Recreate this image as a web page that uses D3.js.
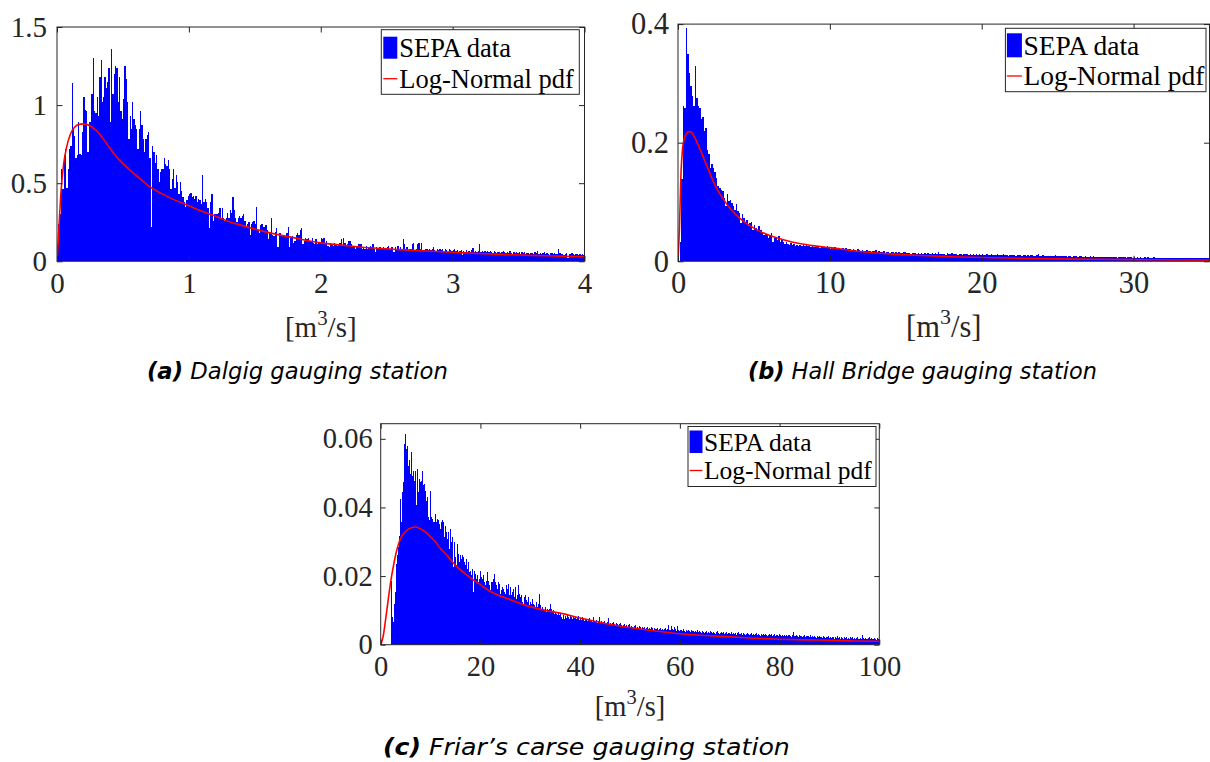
<!DOCTYPE html>
<html>
<head>
<meta charset="utf-8">
<script src="https://cdnjs.cloudflare.com/ajax/libs/d3/7.8.5/d3.min.js"></script>
<style>
  html, body { margin: 0; padding: 0; background: #ffffff; }
  svg { display: block; }
</style>
</head>
<body>
<svg id="fig" width="1210" height="762"></svg>
<script>
// ---------------------------------------------------------------------------
// Flow histograms (pdf-normalised) and fitted Log-Normal densities
// ---------------------------------------------------------------------------

// (a) Dalgig: bins of 0.01 m3/s starting at 0
const dalgigBinWidth = 0.01;
const dalgigDensity = [
  0.08,0.24,0.30,0.59,0.46,0.68,0.72,0.47,0.59,0.72,
  0.74,1.14,0.85,0.80,0.66,0.68,0.89,0.69,0.68,0.83,
  1.05,0.97,0.96,0.70,0.89,0.89,1.07,1.30,0.96,0.95,
  1.05,0.93,1.18,1.29,1.02,1.05,1.18,1.11,1.15,1.24,
  0.89,1.36,1.07,1.20,1.25,1.24,1.02,1.18,0.96,0.91,
  1.04,1.25,1.17,1.02,0.78,0.93,0.85,1.02,0.91,0.87,
  0.85,0.72,0.85,0.96,0.87,0.78,0.70,0.78,0.81,0.83,
  0.66,0.22,0.74,0.70,0.63,0.68,0.59,0.51,0.57,0.59,
  0.59,0.66,0.62,0.61,0.65,0.59,0.46,0.53,0.59,0.47,
  0.55,0.51,0.43,0.51,0.45,0.41,0.38,0.35,0.39,0.42,
  0.43,0.44,0.41,0.42,0.40,0.42,0.38,0.40,0.39,0.37,
  0.55,0.38,0.40,0.38,0.34,0.21,0.38,0.43,0.26,0.30,
  0.30,0.30,0.31,0.34,0.28,0.34,0.28,0.26,0.28,0.31,
  0.28,0.33,0.31,0.41,0.33,0.28,0.25,0.28,0.29,0.28,
  0.29,0.30,0.26,0.22,0.24,0.25,0.17,0.24,0.25,0.26,
  0.24,0.35,0.20,0.18,0.23,0.24,0.22,0.22,0.23,0.20,
  0.14,0.19,0.28,0.17,0.16,0.19,0.21,0.09,0.18,0.18,
  0.16,0.17,0.17,0.16,0.18,0.22,0.09,0.15,0.16,0.12,
  0.13,0.17,0.18,0.17,0.20,0.21,0.11,0.13,0.15,0.14,
  0.15,0.13,0.13,0.15,0.12,0.11,0.14,0.11,0.12,0.12,
  0.15,0.14,0.15,0.12,0.13,0.10,0.09,0.12,0.11,0.10,
  0.12,0.11,0.10,0.11,0.12,0.14,0.10,0.15,0.12,0.10,
  0.11,0.13,0.13,0.11,0.09,0.10,0.08,0.09,0.11,0.11,
  0.11,0.08,0.09,0.08,0.10,0.08,0.09,0.10,0.09,0.11,
  0.08,0.06,0.09,0.08,0.09,0.09,0.08,0.09,0.08,0.08,
  0.09,0.10,0.08,0.09,0.09,0.06,0.09,0.08,0.10,0.08,
  0.09,0.08,0.14,0.11,0.08,0.09,0.07,0.08,0.08,0.11,
  0.12,0.07,0.08,0.11,0.12,0.08,0.12,0.07,0.07,0.08,
  0.08,0.07,0.08,0.07,0.08,0.09,0.07,0.06,0.08,0.07,
  0.08,0.07,0.08,0.06,0.08,0.07,0.06,0.08,0.072,0.063,
  0.070,0.078,0.066,0.071,0.060,0.068,0.073,0.042,0.069,0.058,
  0.071,0.062,0.067,0.059,0.070,0.088,0.057,0.066,0.061,0.069,
  0.108,0.058,0.066,0.060,0.063,0.057,0.068,0.059,0.066,0.058,
  0.055,0.067,0.060,0.051,0.062,0.057,0.050,0.061,0.066,0.058,
  0.052,0.060,0.056,0.068,0.055,0.049,0.058,0.053,0.059,0.050,
  0.057,0.048,0.060,0.052,0.058,0.047,0.053,0.056,0.049,0.054,
  0.051,0.046,0.057,0.050,0.066,0.048,0.053,0.047,0.052,0.058,
  0.046,0.051,0.049,0.042,0.050,0.055,0.047,0.051,0.048,0.046,
  0.078,0.050,0.045,0.049,0.041,0.047,0.051,0.022,0.048,0.044,
  0.050,0.046,0.041,0.049,0.045,0.040,0.047,0.043,0.046,0.041
];
const dalgigFitX = [0,0.01,0.02,0.03,0.05,0.07,0.10,0.13,0.16,0.20,0.25,0.30,0.35,0.40,0.45,0.50,
  0.60,0.70,0.80,0.90,1.00,1.10,1.20,1.30,1.40,1.60,1.80,2.00,2.20,2.40,2.60,2.80,3.00,3.20,3.40,3.60,3.80,4.00];
const dalgigFitY = [0,0.14,0.30,0.44,0.62,0.72,0.81,0.855,0.875,0.88,0.868,0.835,0.785,0.725,0.67,0.625,
  0.55,0.48,0.43,0.39,0.355,0.32,0.29,0.255,0.23,0.185,0.15,0.118,0.10,0.085,0.075,0.066,0.058,0.050,0.044,0.038,0.033,0.029];
const dalgigXTicks = [0, 1, 2, 3, 4];
const dalgigXTickLabels = ["0", "1", "2", "3", "4"];
const dalgigYTicks = [0, 0.5, 1, 1.5];
const dalgigYTickLabels = ["0", "0.5", "1", "1.5"];

// (b) Hall Bridge: bins of 0.1 m3/s starting at 0
const hallBinWidth = 0.1;
const hallDensity = [
  0,0.033,0.138,0.262,0.258,0.393,0.350,0.318,0.295,0.278,
  0.262,0.330,0.276,0.262,0.258,0.240,0.244,0.220,0.224,0.187,
  0.181,0.158,0.164,0.158,0.150,0.141,0.127,0.124,0.121,0.118,
  0.107,0.093,0.113,0.101,0.104,0.099,0.093,0.087,0.096,0.084,
  0.081,0.064,0.079,0.073,0.067,0.070,0.059,0.064,0.067,0.053,
  0.062,0.056,0.051,0.059,0.053,0.050,0.044,0.047,0.044,0.040,
  0.042,0.047,0.033,0.040,0.039,0.036,0.042,0.033,0.036,0.033,
  0.030,0.033,0.030,0.028,0.031,0.027,0.029,0.026,0.028,0.025,
  0.027,0.026,0.0285,0.0262,0.0297,0.0255,0.0271,0.0243,0.0268,0.0249,
  0.0236,0.0262,0.0247,0.0228,0.0255,0.0239,0.0244,0.0219,0.0251,0.0233,
  0.0215,0.0238,0.0226,0.0241,0.0209,0.0222,0.0231,0.0204,0.0217,0.0196,
  0.0223,0.0208,0.0199,0.0214,0.0187,0.0205,0.0193,0.0182,0.0201,0.0189,
  0.0176,0.0194,0.0181,0.0169,0.0188,0.0172,0.0179,0.0161,0.0175,0.0166,
  0.0183,0.0158,0.0171,0.0162,0.0153,0.0169,0.0148,0.0163,0.0155,0.0142,
  0.0159,0.0151,0.0146,0.0157,0.0138,0.0152,0.0144,0.0135,0.0149,0.0156,
  0.0133,0.0145,0.0139,0.0128,0.0147,0.0136,0.0142,0.0125,0.0138,0.0131,
  0.0144,0.0127,0.0135,0.0122,0.0139,0.0129,0.0118,0.0133,0.0126,0.0137,
  0.0121,0.0152,0.0128,0.0117,0.0131,0.0124,0.0113,0.0146,0.0127,0.0119,
  0.0132,0.0115,0.0126,0.0118,0.0109,0.0129,0.0121,0.0112,0.0125,0.0116,
  0.0131,0.0108,0.0122,0.0114,0.0119,0.0105,0.0124,0.0111,0.0117,0.0103,
  0.0121,0.0113,0.0107,0.0118,0.0110,0.0101,0.0115,0.0108,0.0112,0.0099,
  0.0116,0.0105,0.0110,0.0102,0.0129,0.0113,0.0104,0.0097,0.0111,0.0106,
  0.0100,0.0108,0.0095,0.0104,0.0109,0.0098,0.0092,0.0106,0.0101,0.0094,
  0.0103,0.0090,0.0099,0.0105,0.0093,0.0088,0.0101,0.0118,0.0094,0.0089,
  0.0098,0.0091,0.0085,0.0097,0.0092,0.0086,0.0095,0.0089,0.0112,0.0090,
  0.0083,0.0094,0.0088,0.0081,0.0092,0.0085,0.0079,0.0090,0.0084,0.0077,
  0.0089,0.0082,0.0087,0.0076,0.0083,0.0088,0.0078,0.0074,0.0085,0.0080,
  0.0072,0.0083,0.0077,0.0081,0.0071,0.0079,0.0074,0.0068,0.0080,0.0073,
  0.0077,0.0069,0.0075,0.0070,0.0066,0.0078,0.0071,0.0067,0.0074,0.0063,
  0.0072,0.0068,0.0065,0.0073,0.0069,0.0062,0.0070,0.0066,0.0071,0.0061,
  0.0067,0.0064,0.0069,0.0060,0.0066,0.0063,0.0058,0.0068,0.0062,0.0065,
  0.0057,0.0063,0.0060,0.0066,0.0056,0.0062,0.0059,0.0054,0.0064,0.0058,
  0.0061,0.0053,0.0060,0.0057,0.0063,0.0055,0.0052,0.0059,0.0056,0.0061,
  0.0051,0.0058,0.0055,0.0050,0.0059,0.0054,0.0057,0.0049,0.0056,0.0052,
  0.0058,0.0050,0.0054,0.0051,0.0048,0.0056,0.0052,0.0049,0.0055,0.0050
];
const hallFitX = [0,0.1,0.2,0.3,0.4,0.5,0.6,0.75,0.9,1.1,1.3,1.5,1.8,2.0,2.25,2.5,2.75,3.0,3.5,4.0,4.5,
  5.0,5.5,6.0,7.0,8.0,9.0,10,12,14,16,18,20,22.5,25,27.5,30,32.5,35];
const hallFitY = [0,0.06,0.15,0.19,0.205,0.213,0.217,0.219,0.217,0.209,0.198,0.186,0.167,0.155,0.139,0.125,
  0.114,0.104,0.087,0.074,0.064,0.056,0.049,0.044,0.036,0.030,0.026,0.023,0.0165,0.0125,0.0097,0.0078,
  0.0063,0.0050,0.0041,0.0034,0.0028,0.0023,0.0019];
const hallXTicks = [0, 10, 20, 30];
const hallXTickLabels = ["0", "10", "20", "30"];
const hallYTicks = [0, 0.2, 0.4];
const hallYTickLabels = ["0", "0.2", "0.4"];

// (c) Friar's carse: bins of 0.2 m3/s starting at 0
const friarsBinWidth = 0.2;
const friarsDensity = [
  0,0,0,0,0,0,0,0,0,0,
  0.0185,0.0081,0.0065,0.0120,0.0155,0.0236,0.0260,0.0284,0.0318,0.0425,
  0.0357,0.0444,0.0474,0.0585,0.0613,0.0571,0.0580,0.0522,0.0537,0.0498,
  0.0561,0.0493,0.0507,0.0478,0.0507,0.0406,0.0512,0.0444,0.0483,0.0474,
  0.0478,0.0507,0.0464,0.0468,0.0449,0.0420,0.0430,0.0372,0.0362,0.0449,
  0.0372,0.0367,0.0357,0.0357,0.0381,0.0357,0.0367,0.0362,0.0352,0.0338,
  0.0357,0.0362,0.0357,0.0313,0.0347,0.0328,0.0309,0.0328,0.0280,0.0338,
  0.0299,0.0313,0.0280,0.0226,0.0299,0.0255,0.0231,0.0294,0.0265,0.0241,
  0.0260,0.0250,0.0260,0.0255,0.0241,0.0231,0.0250,0.0221,0.0241,0.0212,
  0.0216,0.0202,0.0221,0.0153,0.0216,0.0207,0.0192,0.0202,0.0183,0.0192,
  0.0216,0.0197,0.0192,0.0202,0.0183,0.0173,0.0187,0.0212,0.0185,0.0173,
  0.0158,0.0183,0.0183,0.0192,0.0207,0.0183,0.0173,0.0163,0.0183,0.0178,
  0.0149,0.0158,0.0168,0.0163,0.0153,0.0149,0.0173,0.0163,0.0178,0.0144,
  0.0168,0.0144,0.0153,0.0163,0.0139,0.0168,0.0134,0.0144,0.0173,0.0149,
  0.0139,0.0144,0.0124,0.0120,0.0139,0.0144,0.0129,0.0124,0.0139,0.0115,
  0.0124,0.0120,0.0134,0.0120,0.0115,0.0110,0.0124,0.0110,0.0120,0.0149,
  0.0115,0.0105,0.0110,0.0105,0.0100,0.0110,0.0095,0.0105,0.0100,0.0105,
  0.0120,0.0105,0.0095,0.0100,0.0090,0.0095,0.0090,0.0088,0.0095,0.0086,
  0.0090,0.0081,0.0076,0.0086,0.0076,0.0084,0.0079,0.0088,0.0081,0.0076,
  0.0085,0.0080,0.0074,0.0083,0.0078,0.0081,0.0075,0.0079,0.0084,0.0073,
  0.0077,0.0072,0.0080,0.0074,0.0070,0.0076,0.0071,0.0068,0.0074,0.0079,
  0.0069,0.0073,0.0066,0.0082,0.0070,0.0067,0.0071,0.0064,0.0069,0.0080,
  0.0065,0.0068,0.0062,0.0066,0.0070,0.0063,0.0060,0.0067,0.0078,0.0061,
  0.0064,0.0058,0.0062,0.0066,0.0059,0.0057,0.0063,0.0060,0.0055,0.0059,
  0.0062,0.0056,0.0053,0.0058,0.0061,0.0054,0.0057,0.0052,0.0056,0.0059,
  0.0051,0.0055,0.0053,0.0049,0.0054,0.0057,0.0050,0.0052,0.0048,0.0055,
  0.0051,0.0047,0.0053,0.0049,0.0052,0.0046,0.0050,0.0053,0.0047,0.0049,
  0.0045,0.0051,0.0048,0.0044,0.0050,0.0047,0.0045,0.0049,0.0043,0.0046,
  0.0048,0.0044,0.0047,0.0042,0.0046,0.0049,0.0043,0.0045,0.0058,0.0044,
  0.0042,0.0055,0.0046,0.0043,0.0052,0.0045,0.0041,0.0054,0.0043,0.0040,
  0.0044,0.0042,0.0039,0.0045,0.0041,0.0038,0.0043,0.0040,0.0044,0.0039,
  0.0037,0.0042,0.0039,0.0041,0.0036,0.0040,0.0038,0.0042,0.0036,0.0039,
  0.0037,0.0035,0.0040,0.0037,0.0034,0.0038,0.0041,0.0035,0.0037,0.0033,
  0.0039,0.0036,0.0034,0.0038,0.0035,0.0032,0.0036,0.0039,0.0034,0.0031,
  0.0035,0.0037,0.0033,0.0036,0.0032,0.0034,0.0037,0.0031,0.0035,0.0033,
  0.0030,0.0036,0.0032,0.0034,0.0031,0.0035,0.0029,0.0033,0.0036,0.0030,
  0.0032,0.0034,0.0029,0.0033,0.0031,0.0028,0.0032,0.0035,0.0030,0.0027,
  0.0031,0.0033,0.0029,0.0032,0.0028,0.0030,0.0033,0.0027,0.0031,0.0029,
  0.0026,0.0032,0.0028,0.0030,0.0027,0.0031,0.0028,0.0025,0.0029,0.0032,
  0.0027,0.0030,0.0026,0.0028,0.0031,0.0026,0.0029,0.0027,0.0025,0.0030,
  0.0027,0.0024,0.0028,0.0026,0.0029,0.0025,0.0028,0.0024,0.0027,0.0029,
  0.0025,0.0023,0.0027,0.0038,0.0026,0.0024,0.0028,0.0025,0.0023,0.0027,
  0.0024,0.0026,0.0022,0.0025,0.0028,0.0023,0.0026,0.0024,0.0021,0.0025,
  0.0023,0.0027,0.0022,0.0024,0.0021,0.0025,0.0023,0.0020,0.0024,0.0022,
  0.0026,0.0021,0.0023,0.0020,0.0024,0.0022,0.0019,0.0023,0.0021,0.0025,
  0.0020,0.0022,0.0019,0.0023,0.0021,0.0018,0.0022,0.0020,0.0024,0.0019,
  0.0021,0.0018,0.0022,0.0020,0.0017,0.0021,0.0019,0.0023,0.0018,0.0020,
  0.0017,0.0021,0.0019,0.0022,0.0018,0.0020,0.0017,0.0019,0.0021,0.0018,
  0.0016,0.0020,0.0018,0.0027,0.0019,0.0017,0.0020,0.0018,0.0016,0.0019,
  0.0021,0.0017,0.0019,0.0016,0.0018,0.0020,0.0017,0.0015,0.0019,0.0017
];
const friarsFitX = [0,0.5,1,1.5,2,2.5,3,3.5,4,5,6,7,8,9,10,11,12,13,14,15,16,18,20,22,24,26,28,30,33,36,
  40,45,50,55,60,65,70,75,80,85,90,95,100];
const friarsFitY = [0,0.0025,0.0075,0.0130,0.0183,0.0225,0.0262,0.0290,0.0310,0.0330,0.0340,0.0343,0.0338,
  0.0328,0.0314,0.0299,0.0280,0.0265,0.0248,0.0231,0.0218,0.0195,0.0175,0.0155,0.0142,0.0131,0.0120,0.0111,
  0.0100,0.0092,0.0078,0.0062,0.0050,0.0040,0.0032,0.0027,0.0023,0.0019,0.0016,0.0014,0.0013,0.0011,0.0010];
const friarsXTicks = [0, 20, 40, 60, 80, 100];
const friarsXTickLabels = ["0", "20", "40", "60", "80", "100"];
const friarsYTicks = [0, 0.02, 0.04, 0.06];
const friarsYTickLabels = ["0", "0.02", "0.04", "0.06"];

const legendLabels = ["SEPA data", "Log-Normal pdf"];
const unitLabel = { base: "[m", sup: "3", tail: "/s]" };
const captions = [
  { tag: "(a)", text: " Dalgig gauging station" },
  { tag: "(b)", text: " Hall Bridge gauging station" },
  { tag: "(c)", text: " Friar\u2019s carse gauging station" }
];

// ---------------------------------------------------------------------------
// Layout and styling
// ---------------------------------------------------------------------------
const SERIF = "'Liberation Serif','Times New Roman',Times,serif";
const SANS = "'DejaVu Sans',Arial,sans-serif";
const AXIS_COLOR = "#262626";
const BAR_COLOR = "#0000ff";
const FIT_COLOR = "#ff0000";

const panels = [
  {
    density: dalgigDensity, binWidth: dalgigBinWidth, fitX: dalgigFitX, fitY: dalgigFitY,
    xDomain: [0, 4], yDomain: [0, 1.5],
    xTicks: dalgigXTicks, xTickLabels: dalgigXTickLabels, yTicks: dalgigYTicks, yTickLabels: dalgigYTickLabels,
    caption: captions[0],
    frame: { left: 57, right: 584.5, top: 27, bottom: 261.3 },
    tickFont: 29, tickLen: 5.5, xTickBaseline: 293, yLabelGap: 10,
    xlabelBaseline: 337,
    captionCx: 297.5, captionBaseline: 379, captionWidth: 301,
    legend: { x: 381.3, y: 29.7, w: 198, h: 64.6, font: 26.5,
              patchX: 2, patchW: 14, patchY: 7, patchH: 22, lineY: 49, textX: 18, base1: 27, base2: 58.5 }
  },
  {
    density: hallDensity, binWidth: hallBinWidth, fitX: hallFitX, fitY: hallFitY,
    xDomain: [0, 35], yDomain: [0, 0.4],
    xTicks: hallXTicks, xTickLabels: hallXTickLabels, yTicks: hallYTicks, yTickLabels: hallYTickLabels,
    caption: captions[1],
    frame: { left: 678, right: 1209.5, top: 24.1, bottom: 261.3 },
    tickFont: 30.5, tickLen: 5.5, xTickBaseline: 293.5, yLabelGap: 9,
    xlabelBaseline: 337,
    captionCx: 922.5, captionBaseline: 379, captionWidth: 349,
    legend: { x: 1005.4, y: 28.3, w: 200.6, h: 63.4, font: 27.5,
              patchX: 1.5, patchW: 15, patchY: 5, patchH: 24, lineY: 47.7, textX: 18, base1: 26.5, base2: 57 }
  },
  {
    density: friarsDensity, binWidth: friarsBinWidth, fitX: friarsFitX, fitY: friarsFitY,
    xDomain: [0, 100], yDomain: [0, 0.0644],
    xTicks: friarsXTicks, xTickLabels: friarsXTickLabels, yTicks: friarsYTicks, yTickLabels: friarsYTickLabels,
    caption: captions[2],
    frame: { left: 380.7, right: 879.3, top: 423.7, bottom: 644.7 },
    tickFont: 28.5, tickLen: 5, xTickBaseline: 676.5, yLabelGap: 8,
    xlabelBaseline: 716,
    captionCx: 586.5, captionBaseline: 755, captionWidth: 407,
    legend: { x: 688, y: 426.5, w: 188, h: 60, font: 25.5,
              patchX: 1.5, patchW: 13, patchY: 4, patchH: 22.5, lineY: 44, textX: 16, base1: 24, base2: 52 }
  }
];

const svg = d3.select("#fig");
svg.append("rect").attr("width", 1210).attr("height", 762).attr("fill", "#ffffff");

panels.forEach((p, idx) => drawPanel(p, idx));

function drawPanel(p, idx) {
  const f = p.frame;
  const x = d3.scaleLinear().domain(p.xDomain).range([f.left, f.right]);
  const y = d3.scaleLinear().domain(p.yDomain).range([f.bottom, f.top]);
  const g = svg.append("g").attr("class", "panel-" + idx);

  const clipId = "plot-clip-" + idx;
  g.append("clipPath").attr("id", clipId)
    .append("rect")
    .attr("x", f.left).attr("y", f.top)
    .attr("width", f.right - f.left).attr("height", f.bottom - f.top);

  const plot = g.append("g").attr("clip-path", "url(#" + clipId + ")");

  // histogram bars, bin edges snapped to whole pixels so neighbours meet without seams
  const bins = p.density
    .map((v, i) => ({ x0: i * p.binWidth, x1: (i + 1) * p.binWidth, v }))
    .filter(d => d.v > 0);
  const px = v => Math.round(x(v));
  plot.append("g")
    .attr("shape-rendering", "crispEdges")
    .selectAll("rect")
    .data(bins)
    .join("rect")
    .attr("x", d => px(d.x0))
    .attr("width", d => Math.max(1, px(d.x1) - px(d.x0)))
    .attr("y", d => y(d.v))
    .attr("height", d => y(0) - y(d.v))
    .attr("fill", BAR_COLOR);

  // fitted density
  const fit = d3.zip(p.fitX, p.fitY);
  const line = d3.line()
    .x(d => x(d[0]))
    .y(d => y(d[1]))
    .curve(d3.curveMonotoneX);
  plot.append("path")
    .datum(fit)
    .attr("d", line)
    .attr("fill", "none")
    .attr("stroke", FIT_COLOR)
    .attr("stroke-width", 1.6)
    .attr("stroke-linejoin", "round");

  // axes with inward ticks on all four sides
  const styleAxis = sel => {
    sel.select(".domain").remove();
    sel.selectAll(".tick line").attr("stroke", AXIS_COLOR).attr("stroke-width", 1);
    sel.selectAll(".tick text")
      .attr("fill", AXIS_COLOR)
      .attr("font-family", SERIF)
      .attr("font-size", p.tickFont);
    sel.attr("font-family", null).attr("font-size", null);
  };

  const bottomPad = p.xTickBaseline - f.bottom - 0.71 * p.tickFont;
  g.append("g")
    .attr("transform", `translate(0,${f.bottom})`)
    .call(d3.axisBottom(x).tickValues(p.xTicks).tickSize(-p.tickLen).tickPadding(bottomPad)
      .tickFormat((d, i) => p.xTickLabels[i]))
    .call(styleAxis);

  g.append("g")
    .attr("transform", `translate(0,${f.top})`)
    .call(d3.axisTop(x).tickValues(p.xTicks).tickSize(-p.tickLen).tickFormat(""))
    .call(styleAxis);

  g.append("g")
    .attr("transform", `translate(${f.left},0)`)
    .call(d3.axisLeft(y).tickValues(p.yTicks).tickSize(-p.tickLen).tickPadding(p.yLabelGap)
      .tickFormat((d, i) => p.yTickLabels[i]))
    .call(styleAxis);

  g.append("g")
    .attr("transform", `translate(${f.right},0)`)
    .call(d3.axisRight(y).tickValues(p.yTicks).tickSize(-p.tickLen).tickFormat(""))
    .call(styleAxis);

  g.append("rect")
    .attr("x", f.left).attr("y", f.top)
    .attr("width", f.right - f.left).attr("height", f.bottom - f.top)
    .attr("fill", "none")
    .attr("stroke", AXIS_COLOR)
    .attr("stroke-width", 1);

  // legend
  const L = p.legend;
  const lg = g.append("g").attr("transform", `translate(${L.x},${L.y})`);
  lg.append("rect")
    .attr("width", L.w).attr("height", L.h)
    .attr("fill", "#ffffff")
    .attr("stroke", AXIS_COLOR)
    .attr("stroke-width", 1);
  lg.append("rect")
    .attr("x", L.patchX).attr("y", L.patchY)
    .attr("width", L.patchW).attr("height", L.patchH)
    .attr("fill", BAR_COLOR);
  lg.append("line")
    .attr("x1", L.patchX).attr("x2", L.patchX + L.patchW)
    .attr("y1", L.lineY).attr("y2", L.lineY)
    .attr("stroke", FIT_COLOR).attr("stroke-width", 1.3);
  lg.selectAll("text.entry")
    .data(legendLabels)
    .join("text")
    .attr("class", "entry")
    .attr("x", L.textX)
    .attr("y", (d, i) => i === 0 ? L.base1 : L.base2)
    .attr("font-family", SERIF)
    .attr("font-size", L.font)
    .attr("fill", "#000000")
    .text(d => d);

  // x-axis unit label
  const xl = g.append("text")
    .attr("x", (f.left + f.right) / 2)
    .attr("y", p.xlabelBaseline)
    .attr("text-anchor", "middle")
    .attr("font-family", SERIF)
    .attr("font-size", p.tickFont)
    .attr("fill", AXIS_COLOR);
  const supShift = Math.round(p.tickFont * 0.42);
  xl.append("tspan").text(unitLabel.base);
  xl.append("tspan").attr("dy", -supShift).attr("font-size", p.tickFont * 0.72).text(unitLabel.sup);
  xl.append("tspan").attr("dy", supShift).text(unitLabel.tail);

  // sub-figure caption
  const cap = svg.append("text")
    .attr("x", 0).attr("y", 0)
    .attr("font-family", SANS)
    .attr("font-size", 23)
    .attr("font-style", "italic")
    .attr("fill", "#000000");
  cap.append("tspan").attr("font-weight", "bold").text(p.caption.tag);
  cap.append("tspan").text(p.caption.text);
  const natural = cap.node().getComputedTextLength();
  const sx = p.captionWidth / natural;
  cap.attr("transform",
    `translate(${p.captionCx - p.captionWidth / 2},${p.captionBaseline}) scale(${sx},1)`);
}
</script>
</body>
</html>
